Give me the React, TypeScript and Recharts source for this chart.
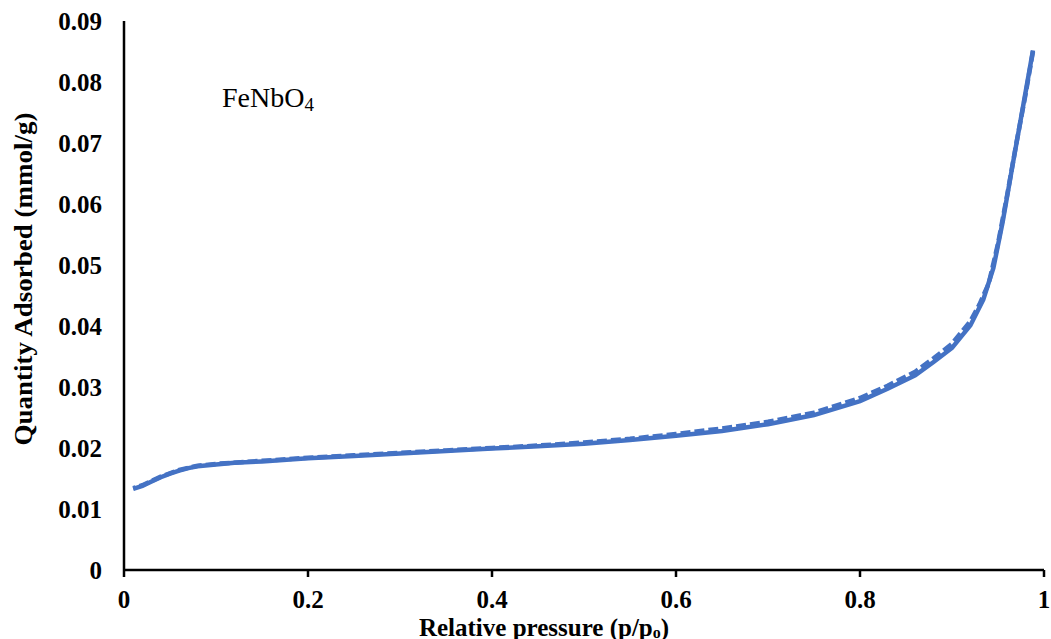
import * as React from 'react';
import { Label, Line, LineChart, XAxis, YAxis } from 'recharts';

// Isotherm: adsorption (solid) and desorption (dashed).
const adsPressure = [
  0.01, 0.02, 0.03, 0.04, 0.05, 0.06, 0.07, 0.08, 0.1, 0.12, 0.15, 0.2, 0.25, 0.3, 0.35, 0.4,
  0.45, 0.5, 0.55, 0.6, 0.65, 0.7, 0.75, 0.8, 0.83, 0.86, 0.88, 0.9, 0.92, 0.934, 0.945, 0.955,
  0.966, 0.979, 0.988,
];
const adsQuantity = [
  0.0133, 0.0138, 0.0145, 0.0152, 0.0158, 0.0163, 0.0167, 0.017, 0.0173, 0.0176, 0.0178, 0.0183,
  0.0187, 0.0191, 0.0195, 0.0199, 0.0203, 0.0207, 0.0213, 0.022, 0.0228, 0.0239, 0.0254, 0.0277,
  0.0297, 0.0319, 0.0341, 0.0364, 0.0401, 0.0443, 0.0495, 0.057, 0.0665, 0.0775, 0.0852,
];
const desPressure = [
  0.988, 0.98, 0.97, 0.96, 0.95, 0.94, 0.93, 0.92, 0.9, 0.88, 0.86, 0.83, 0.8, 0.75, 0.7, 0.65,
  0.6, 0.55, 0.5, 0.45, 0.4, 0.35, 0.3, 0.25, 0.2, 0.15, 0.1, 0.08, 0.06, 0.04, 0.02, 0.01,
];
const desQuantity = [
  0.085, 0.078, 0.07, 0.0615, 0.0535, 0.047, 0.0436, 0.0408, 0.0371, 0.0347, 0.0325, 0.0302,
  0.0282, 0.0258, 0.0243, 0.0232, 0.0223, 0.0215, 0.0209, 0.0204, 0.02, 0.0196, 0.0192, 0.0188,
  0.0184, 0.0179, 0.0174, 0.0171, 0.0164, 0.0153, 0.0139, 0.0134,
];
const xTicks = [0, 0.2, 0.4, 0.6, 0.8, 1];
const yTicks = [0, 0.01, 0.02, 0.03, 0.04, 0.05, 0.06, 0.07, 0.08, 0.09];

const BLUE = '#4472C4';
const FONT = '"Liberation Serif", "Times New Roman", serif';

const adsData = adsPressure.map((p, i) => ({ p, q: adsQuantity[i] }));
const desData = desPressure.map((p, i) => ({ p, q: desQuantity[i] }));

const tickStyle = { fontFamily: FONT, fontSize: 25, fontWeight: 700, fill: '#000' };

export default function App(): React.ReactElement {
  return (
    <div style={{ position: 'absolute', left: 0, top: 0, width: 1051, height: 639, background: '#fff' }}>
      <LineChart width={1051} height={639} margin={{ top: 21, right: 7, left: 8, bottom: 29 }}>
        <XAxis
          type="number"
          dataKey="p"
          domain={[0, 1]}
          ticks={xTicks}
          tickFormatter={(v: number) => String(v)}
          axisLine={{ stroke: '#000', strokeWidth: 2.5 }}
          tickLine={{ stroke: '#000', strokeWidth: 2.5 }}
          tickSize={7}
          tickMargin={13}
          height={40}
          tick={tickStyle}
          allowDataOverflow
        >
          <Label
            content={() => (
              <text x={544} y={636} textAnchor="middle" fontFamily={FONT} fontSize={25} fontWeight={700} fill="#000">
                Relative pressure (p/p
                <tspan fontSize={16} dy={2}>o</tspan>
                <tspan dy={-2}>)</tspan>
              </text>
            )}
          />
        </XAxis>
        <YAxis
          type="number"
          dataKey="q"
          domain={[0, 0.09]}
          ticks={yTicks}
          tickFormatter={(v: number) => (v === 0 ? '0' : v.toFixed(2))}
          axisLine={{ stroke: '#000', strokeWidth: 2.5 }}
          tickLine={false}
          tickSize={0}
          tickMargin={22}
          width={116}
          tick={tickStyle}
          allowDataOverflow
        >
          <Label
            content={() => (
              <text
                transform="translate(32 279) rotate(-90) scale(1.08 1)"
                x={0}
                y={0}
                textAnchor="middle"
                fontFamily={FONT}
                fontSize={25}
                fontWeight={700}
                fill="#000"
              >
                Quantity Adsorbed (mmol/g)
              </text>
            )}
          />
        </YAxis>
        <Line
          data={adsData}
          dataKey="q"
          type="linear"
          stroke={BLUE}
          strokeWidth={4.5}
          dot={false}
          isAnimationActive={false}
        />
        <Line
          data={desData}
          dataKey="q"
          type="linear"
          stroke={BLUE}
          strokeWidth={4.5}
          strokeDasharray="10 4"
          dot={false}
          isAnimationActive={false}
        />
        <text x={222} y={107} fontFamily={FONT} fontSize={28} fill="#000">
          FeNbO
          <tspan fontSize={19} dy={4}>4</tspan>
        </text>
      </LineChart>
    </div>
  );
}
